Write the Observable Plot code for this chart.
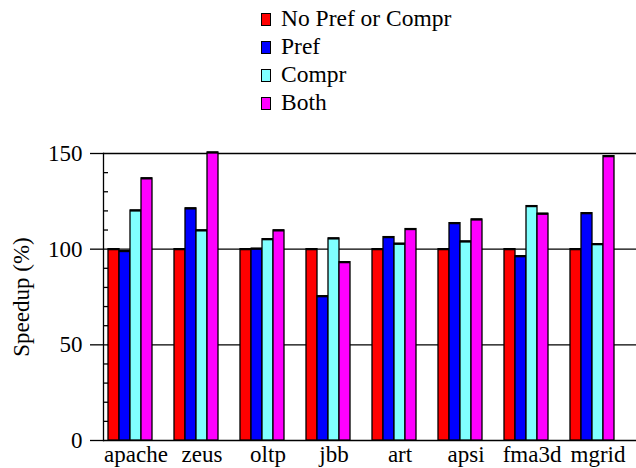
<!DOCTYPE html>
<html><head><meta charset="utf-8">
<script src="https://cdn.jsdelivr.net/npm/d3@7"></script>
<script src="https://cdn.jsdelivr.net/npm/@observablehq/plot@0.6"></script>
<style>
html,body{margin:0;padding:0;background:#fff;}
body{font-family:'Liberation Serif','Times New Roman',serif;color:#000;width:636px;}
#legend{position:relative;height:115px;}
.item{position:absolute;left:261px;height:24px;display:flex;align-items:center;font-family:'Liberation Serif','Times New Roman',serif;font-size:23.5px;line-height:1;white-space:nowrap;}
.sw{width:8px;height:11px;border:1.5px solid #000;margin-right:10px;flex:none;}
#chart svg{display:block;}
</style></head><body>
<div id="legend"></div><div id="chart"></div>
<script>
const benchmarks = ["apache","zeus","oltp","jbb","art","apsi","fma3d","mgrid"];
const series = ["No Pref or Compr","Pref","Compr","Both"];
const colors = ["#ff0000","#0000ff","#80ffff","#ff00ff"];
const noPrefOrCompr = [100,100,100,100,100,100,100,100];
const pref  = [99.0,121.3,100.2,75.4,106.3,113.6,96.3,118.8];
const compr = [120.2,109.8,105.2,105.6,102.8,104.0,122.5,102.6];
const both  = [137.0,150.5,109.8,93.2,110.5,115.5,118.5,148.6];
const yMajorTicks = [0,50,100,150];
const yMinorTicks = [10,20,30,40,60,70,80,90,110,120,130,140];
const slotsPerGroup = 6; // 4 bars + one empty slot + gap

const seriesValues = [noPrefOrCompr, pref, compr, both];
const rows = benchmarks.flatMap((b, i) => seriesValues.map((arr, j) => ({
  bench: b, series: series[j], slot: b + "|" + j, value: arr[i]
})));
const xDomain = benchmarks.flatMap(b => d3.range(slotsPerGroup).map(k => b + "|" + k));

const font = "'Liberation Serif', 'Times New Roman', serif";

// legend
const legend = document.getElementById("legend");
series.forEach((s, i) => {
  const it = document.createElement("div");
  it.className = "item";
  it.style.top = (7 + i * 28) + "px";
  const sw = document.createElement("span");
  sw.className = "sw";
  sw.style.background = colors[i];
  it.appendChild(sw);
  it.appendChild(document.createTextNode(s));
  legend.appendChild(it);
});

const chart = Plot.plot({
  width: 636, height: 353,
  marginTop: 38, marginBottom: 28, marginLeft: 103, marginRight: 0,
  style: {fontFamily: font, fontSize: "23px", background: "#fff", color: "#000"},
  x: {domain: xDomain, range: [108, 636], padding: 0},
  y: {domain: [0, 150]},
  color: {domain: series, range: colors},
  marks: [
    Plot.ruleY(yMajorTicks, {stroke: "#000", strokeWidth: 1.3}),
    Plot.barY(rows, {x: "slot", y: "value", fill: "series", stroke: "#000", strokeWidth: 1.3}),
    Plot.tickY(rows, {x: "slot", y: "value", stroke: "#000", strokeWidth: 2.2}),
    Plot.frame({anchor: "left", stroke: "#000", strokeWidth: 1.3}),
    Plot.axisY({ticks: yMajorTicks, tickSize: 13, tickPadding: 8, fontSize: 23, strokeWidth: 1.3, label: null}),
    Plot.axisY({ticks: yMinorTicks, tickSize: 5, dx: 5, tickFormat: () => "", strokeWidth: 1.3, label: null}),
    Plot.axisX({ticks: benchmarks.map(b => b + "|2"), tickFormat: k => k.split("|")[0], tickSize: 0, tickPadding: 5, fontSize: 23, label: null}),
    Plot.text(["Speedup (%)"], {frameAnchor: "left", rotate: -90, dx: -82, fontSize: 23, textAnchor: "middle", lineAnchor: "middle"})
  ]
});
document.getElementById("chart").appendChild(chart);
</script>
</body></html>
